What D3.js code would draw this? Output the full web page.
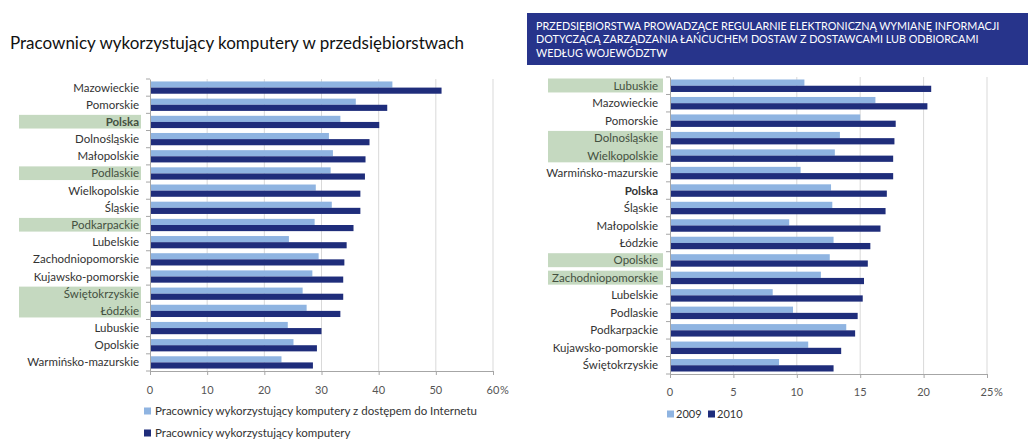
<!DOCTYPE html>
<html><head><meta charset="utf-8">
<script src="https://cdn.jsdelivr.net/npm/d3@7"></script>
<style>
html,body{margin:0;padding:0;background:#fff;}
svg{display:block;font-family:Lato,"Open Sans",sans-serif;}
</style></head>
<body>
<svg id="c" width="1028" height="440"></svg>
<script>
// ---- Data ----
const titleLeft = "Pracownicy wykorzystujący komputery w przedsiębiorstwach";
const titleRight = ["PRZEDSIĘBIORSTWA PROWADZĄCE REGULARNIE ELEKTRONICZNĄ WYMIANĘ INFORMACJI",
                    "DOTYCZĄCĄ ZARZĄDZANIA ŁAŃCUCHEM DOSTAW Z DOSTAWCAMI LUB ODBIORCAMI",
                    "WEDŁUG WOJEWÓDZTW"];

const catsL = ["Mazowieckie","Pomorskie","Polska","Dolnośląskie","Małopolskie","Podlaskie","Wielkopolskie","Śląskie","Podkarpackie","Lubelskie","Zachodniopomorskie","Kujawsko-pomorskie","Świętokrzyskie","Łódzkie","Lubuskie","Opolskie","Warmińsko-mazurskie"];
const internetL = [42.4,36.0,33.3,31.3,32.0,31.6,29.0,31.8,28.8,24.3,29.5,28.4,26.7,27.4,24.1,25.1,23.0];
const computersL = [51.0,41.5,40.1,38.4,37.7,37.6,36.8,36.8,35.6,34.4,34.0,33.8,33.8,33.3,30.0,29.2,28.5];
const highlightL = [["Polska"],["Podlaskie"],["Podkarpackie"],["Świętokrzyskie","Łódzkie"]];
const boldL = ["Polska"];
const ticksL = [0,10,20,30,40,50,60];
const legendL = ["Pracownicy wykorzystujący komputery z dostępem do Internetu","Pracownicy wykorzystujący komputery"];

const catsR = ["Lubuskie","Mazowieckie","Pomorskie","Dolnośląskie","Wielkopolskie","Warmińsko-mazurskie","Polska","Śląskie","Małopolskie","Łódzkie","Opolskie","Zachodniopomorskie","Lubelskie","Podlaskie","Podkarpackie","Kujawsko-pomorskie","Świętokrzyskie"];
const v2009 = [10.6,16.2,15.0,13.4,13.0,10.3,12.7,12.8,9.4,12.9,12.6,11.9,8.1,9.7,13.9,10.9,8.6];
const v2010 = [20.6,20.3,17.8,17.7,17.6,17.6,17.1,17.0,16.6,15.8,15.6,15.3,15.2,14.8,14.6,13.5,12.9];
const highlightR = [["Lubuskie"],["Dolnośląskie","Wielkopolskie"],["Opolskie"],["Zachodniopomorskie"]];
const boldR = ["Polska"];
const ticksR = [0,5,10,15,20,25];
const legendR = ["2009","2010"];

// ---- Styles ----
const LIGHT = "#8fb4e1", DARK = "#1f2d7b", GREEN = "#c5d9c0", GRID = "#d9d9d9", AXIS = "#a6a6a6";
const svg = d3.select("#c");

function drawChart(o) {
  const g = svg.append("g");
  const x = d3.scaleLinear().domain([0, o.ticks[o.ticks.length-1]]).range([o.x0, o.x1]);
  const y = d3.scaleBand().domain(o.cats).range([o.yTop, o.yBot]);
  const bw = y.bandwidth();
  const sub = d3.scaleBand().domain([0,1]).range([0, bw]).paddingOuter(0.4).paddingInner(0);
  const hlNames = o.highlight.flat();

  // highlight boxes (one per group)
  g.selectAll("rect.hl").data(o.highlight).join("rect").attr("class","hl")
    .attr("x", o.hlX0).attr("width", o.hlX1 - o.hlX0)
    .attr("y", grp => y(grp[0]) + 1.5)
    .attr("height", grp => y(grp[grp.length-1]) + bw - 3.5 - y(grp[0]))
    .attr("fill", GREEN);

  // grid
  g.selectAll("line.grid").data(o.ticks.slice(1)).join("line")
    .attr("x1", d => x(d)).attr("x2", d => x(d))
    .attr("y1", o.yTop).attr("y2", o.yBot)
    .attr("stroke", GRID).attr("stroke-width", 1);

  // bars
  o.series.forEach((s, si) => {
    g.selectAll("rect.s"+si).data(o.cats).join("rect")
      .attr("x", x(0)).attr("y", c => y(c) + sub(si))
      .attr("width", (c,i) => x(s.values[i]) - x(0))
      .attr("height", sub.bandwidth())
      .attr("fill", s.color);
  });

  // y axis
  const ya = g.append("g").attr("transform", `translate(${o.x0},0)`)
    .call(d3.axisLeft(y).tickSize(0).tickPadding(0).tickFormat(""));
  ya.select(".domain").attr("stroke", AXIS);
  g.selectAll("line.yt").data(d3.range(o.cats.length+1)).join("line")
    .attr("x1", o.x0-4).attr("x2", o.x0)
    .attr("y1", i => o.yTop + i*bw).attr("y2", i => o.yTop + i*bw)
    .attr("stroke", AXIS);
  g.selectAll("text.cat").data(o.cats).join("text")
    .attr("x", o.labelX).attr("y", c => y(c) + bw/2)
    .attr("dy", "0.35em").attr("text-anchor","end")
    .attr("font-size", o.labelSize)
    .attr("font-weight", c => o.bold.includes(c) ? "bold" : "normal")
    .attr("fill", c => hlNames.includes(c) ? "#44503f" : "#333")
    .text(c => c);

  // x axis
  const xa = g.append("g").attr("transform", `translate(0,${o.yBot})`)
    .call(d3.axisBottom(x).tickValues(o.ticks).tickSize(4).tickFormat(""));
  xa.select(".domain").attr("stroke", AXIS);
  xa.selectAll(".tick line").attr("stroke", AXIS);
  g.selectAll("text.tk").data(o.ticks).join("text")
    .attr("x", d => x(d)).attr("y", o.yBot + o.tickDy)
    .attr("text-anchor","middle").attr("font-size", 11).attr("fill","#555")
    .text(d => d);
  g.append("text").attr("x", x(o.ticks[o.ticks.length-1]) + 7).attr("y", o.yBot + o.tickDy)
    .attr("font-size", 11).attr("fill","#555").text("%");
}

drawChart({
  cats: catsL, x0:150, x1:493, yTop:79, yBot:371, ticks: ticksL,
  series: [{values: internetL, color: LIGHT},{values: computersL, color: DARK}],
  highlight: highlightL, bold: boldL, hlX0: 19, hlX1: 141, labelX: 139, labelSize: 11.5, tickDy: 23
});
drawChart({
  cats: catsR, x0:670, x1:987, yTop:77, yBot:374, ticks: ticksR,
  series: [{values: v2009, color: LIGHT},{values: v2010, color: DARK}],
  highlight: highlightR, bold: boldR, hlX0: 548, hlX1: 663, labelX: 658, labelSize: 11.5, tickDy: 22
});

// titles
svg.append("text").attr("x", 10).attr("y", 49).attr("font-size", 17).attr("fill","#111")
  .text(titleLeft);
svg.append("rect").attr("x", 527).attr("y", 13).attr("width", 501).attr("height", 52).attr("fill", "#27348b");
svg.selectAll("text.tr").data(titleRight).join("text")
  .attr("x", 536).attr("y", (d,i) => 30 + i*13.3)
  .attr("font-size", 10.8).attr("fill","#fff").text(d => d);

// legends
const lgL = svg.append("g");
lgL.selectAll("rect").data(legendL).join("rect")
  .attr("x", 144).attr("y", (d,i) => 407.5 + i*22).attr("width", 7).attr("height", 7)
  .attr("fill", (d,i) => i ? DARK : LIGHT);
lgL.selectAll("text").data(legendL).join("text")
  .attr("x", 155).attr("y", (d,i) => 411 + i*22).attr("dy","0.35em")
  .attr("font-size", 11.5).attr("fill","#333").text(d => d);

const lgR = svg.append("g");
const lgX = [667, 708];
lgR.selectAll("rect").data(legendR).join("rect")
  .attr("x", (d,i) => lgX[i]).attr("y", 410.5).attr("width", 7).attr("height", 7)
  .attr("fill", (d,i) => i ? DARK : LIGHT);
lgR.selectAll("text").data(legendR).join("text")
  .attr("x", (d,i) => lgX[i] + 9).attr("y", 414).attr("dy","0.35em")
  .attr("font-size", 11).attr("fill","#333").text(d => d);
</script>
</body></html>
